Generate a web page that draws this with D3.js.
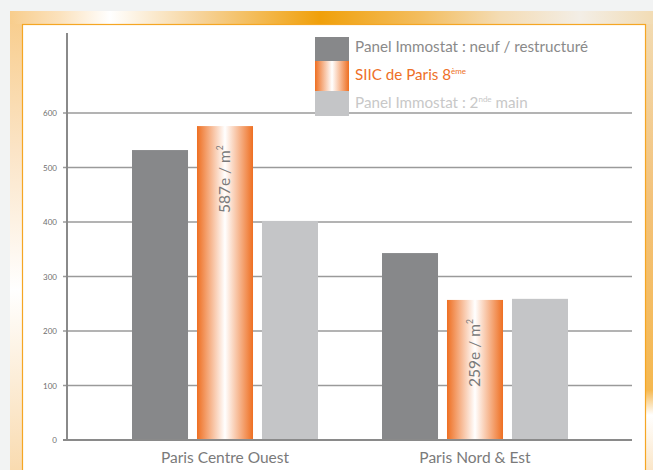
<!DOCTYPE html>
<html>
<head>
<meta charset="utf-8">
<script src="https://cdn.jsdelivr.net/npm/d3@7"></script>
<style>
  html, body { margin: 0; padding: 0; background: #f2f3f3; }
  svg { display: block; }
</style>
</head>
<body>
<svg id="chart"></svg>
<script>
// données
const categories = ["Paris Centre Ouest", "Paris Nord & Est"]
const series = ["neuf", "siic", "seconde"]
const neufValues = [532, 343]
const siicValues = [576, 257]
const secondeValues = [402, 259]
const siicLabels = ["587e / m", "259e / m"]
const yTicks = [0, 100, 200, 300, 400, 500, 600]

const colors = {
    neuf: "#87888a",
    seconde: "#c4c5c7",
    orange: "#ee7027",
    grid: "#9a9a9a",
    text: "#7a7a7a"
}

const W = 653, H = 470
const svg = d3.select("#chart").attr("width", W).attr("height", H)
const defs = svg.append("defs")

// dégradé barre orange
const og = defs.append("linearGradient").attr("id", "orangeGrad")
    .attr("x1", "0").attr("x2", "1").attr("y1", "0").attr("y2", "0")
og.append("stop").attr("offset", "0").attr("stop-color", "#ee6f22")
og.append("stop").attr("offset", "0.5").attr("stop-color", "#ffffff")
og.append("stop").attr("offset", "1").attr("stop-color", "#ee6f22")

// cadre
const topGrad = defs.append("linearGradient").attr("id", "topGrad")
    .attr("gradientUnits", "userSpaceOnUse").attr("x1", 10).attr("x2", 653).attr("y1", 0).attr("y2", 0)
;[[10, "#f8cd8c"], [60, "#fbe2bd"], [110, "#ffffff"], [200, "#f6d39a"], [320, "#f0a00a"], [420, "#f3bd5e"], [500, "#f4dcb4"], [580, "#f3eee6"], [653, "#f2dcb5"]]
    .forEach(s => topGrad.append("stop").attr("offset", (s[0] - 10) / 643).attr("stop-color", s[1]))

const leftGrad = defs.append("linearGradient").attr("id", "leftGrad")
    .attr("gradientUnits", "userSpaceOnUse").attr("x1", 0).attr("x2", 0).attr("y1", 11).attr("y2", 470)
;[[11, "#f8cc8a"], [150, "#fbe4c6"], [290, "#ffffff"], [470, "#f9dbb0"]]
    .forEach(s => leftGrad.append("stop").attr("offset", (s[0] - 11) / 459).attr("stop-color", s[1]))

const rightGrad = defs.append("linearGradient").attr("id", "rightGrad")
    .attr("gradientUnits", "userSpaceOnUse").attr("x1", 0).attr("x2", 0).attr("y1", 11).attr("y2", 470)
;[[11, "#f2dcb5"], [200, "#f3c27a"], [390, "#f5b850"], [415, "#ffffff"], [470, "#fbe6c8"]]
    .forEach(s => rightGrad.append("stop").attr("offset", (s[0] - 11) / 459).attr("stop-color", s[1]))

svg.append("rect").attr("x", 10).attr("y", 11).attr("width", 643).attr("height", 14).attr("fill", "url(#topGrad)")
svg.append("rect").attr("x", 10).attr("y", 24).attr("width", 13).attr("height", 446).attr("fill", "url(#leftGrad)")
svg.append("rect").attr("x", 645).attr("y", 24).attr("width", 8).attr("height", 446).attr("fill", "url(#rightGrad)")
svg.append("rect").attr("x", 22.5).attr("y", 24.5).attr("width", 623).attr("height", 460)
    .attr("fill", "#ffffff").attr("stroke", "#f5a623").attr("stroke-width", 1.2)

// échelles
const y = d3.scaleLinear().domain([0, 600]).range([440, 113])
const x0 = d3.scaleBand().domain(categories).range([100, 600]).padding(0)
const x1 = d3.scaleBand().domain(series).range([32, 218]).paddingInner(0.138).paddingOuter(0)

// grille
const g = svg.append("g")
g.selectAll(".grid").data(yTicks.filter(d => d > 0)).enter().append("line")
    .attr("x1", 63).attr("x2", 632)
    .attr("y1", d => y(d)).attr("y2", d => y(d))
    .attr("stroke", colors.grid).attr("stroke-width", 1.3)

const yAxis = d3.axisLeft(y).tickValues(yTicks).tickSize(0).tickPadding(10)
const ax = g.append("g").attr("transform", "translate(67,0)").call(yAxis)
ax.select(".domain").remove()
ax.selectAll("text").attr("fill", "#6f6f6f").style("font-family", "Lato, sans-serif").style("font-size", "8px")

// barres
const rows = categories.map((c, i) => ({
    cat: c,
    vals: [
        {key: "neuf", v: neufValues[i]},
        {key: "siic", v: siicValues[i], label: siicLabels[i]},
        {key: "seconde", v: secondeValues[i]}
    ]
}))

const groups = g.selectAll(".grp").data(rows).enter().append("g")
    .attr("transform", d => `translate(${x0(d.cat)},0)`)

groups.selectAll("rect").data(d => d.vals).enter().append("rect")
    .attr("x", d => x1(d.key))
    .attr("width", x1.bandwidth())
    .attr("y", d => y(d.v))
    .attr("height", d => y(0) - y(d.v))
    .attr("fill", d => d.key === "siic" ? "url(#orangeGrad)" : colors[d.key])

// étiquettes verticales
groups.each(function (d) {
    const s = d.vals[1]
    const cx = x1("siic") + x1.bandwidth() / 2
    const t = d3.select(this).append("text")
        .attr("transform", `translate(${cx + 5},${y(s.v) + 87}) rotate(-90)`)
        .attr("fill", colors.text)
        .style("font-family", "Lato, sans-serif").style("font-size", "15.5px")
        .text(s.label)
    t.append("tspan").attr("dy", -7).style("font-size", "8.5px").text("2")
})

// axes
g.append("line").attr("x1", 67).attr("x2", 67).attr("y1", 33).attr("y2", 441)
    .attr("stroke", "#8a8a8a").attr("stroke-width", 2)
g.append("line").attr("x1", 63).attr("x2", 632).attr("y1", y(0)).attr("y2", y(0))
    .attr("stroke", "#8a8a8a").attr("stroke-width", 2)

g.selectAll(".cat").data(categories).enter().append("text")
    .attr("x", d => x0(d) + x0.bandwidth() / 2)
    .attr("y", 463)
    .attr("text-anchor", "middle")
    .attr("fill", colors.text)
    .style("font-family", "Lato, sans-serif").style("font-size", "15.5px")
    .text(d => d)

// légende
const legend = [
    {fill: colors.neuf, y0: 37, h: 24, color: "#8a8a8a", text: "Panel Immostat : neuf / restructuré", sup: null, rest: null},
    {fill: "url(#orangeGrad)", y0: 61, h: 30, color: "#ee7027", text: "SIIC de Paris 8", sup: "ème", rest: null},
    {fill: colors.seconde, y0: 91, h: 25, color: "#c8c8c8", text: "Panel Immostat : 2", sup: "nde", rest: " main"}
]
const lg = svg.append("g")
legend.forEach((l, i) => {
    lg.append("rect").attr("x", 315).attr("y", l.y0).attr("width", 34).attr("height", l.h).attr("fill", l.fill)
    const t = lg.append("text").attr("x", 355).attr("y", 52 + i * 28)
        .attr("fill", l.color)
        .style("font-family", "Lato, sans-serif").style("font-size", "15.2px")
        .text(l.text)
    if (l.sup) t.append("tspan").attr("dy", -6).style("font-size", "8px").text(l.sup)
    if (l.rest) t.append("tspan").attr("dy", 6).text(l.rest)
})
</script>
</body>
</html>
